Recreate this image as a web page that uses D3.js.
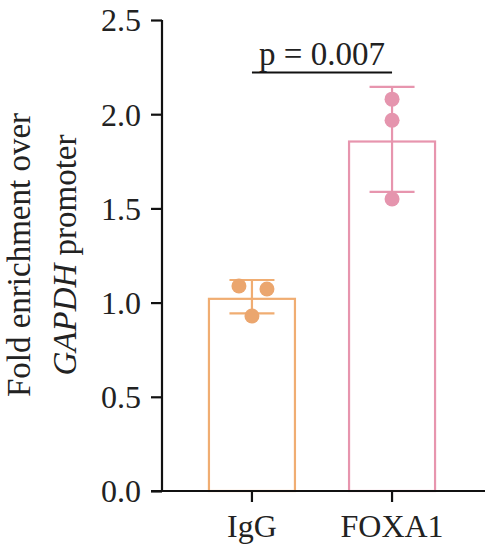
<!DOCTYPE html>
<html><head><meta charset="utf-8">
<script src="https://cdn.jsdelivr.net/npm/d3@7"></script>
<style>body{margin:0;background:#fff}svg{display:block}</style>
</head><body>
<svg id="c" width="485" height="552"></svg>
<script>
const categories = ["IgG", "FOXA1"];
const means = [1.02, 1.855];
const errUpper = [1.12, 2.145];
const errLower = [0.943, 1.588];
const pointsIgG = [1.088, 1.072, 0.929];
const pointsFOXA1 = [2.08, 1.968, 1.55];
const pointOffsets = [[-13, 15, 0], [0, 0, 0]];
const colors = ["#F0AD72", "#E795AE"];
const dotColors = ["#EBA66E", "#E595AE"];
const yTicks = [0, 0.5, 1.0, 1.5, 2.0, 2.5];
const pLabel = "p = 0.007";

const svg = d3.select("#c");
const FONT = "'Liberation Serif', 'Times New Roman', serif";
const y = d3.scaleLinear().domain([0, 2.5]).range([491, 20]);
const x = d3.scaleBand().domain(categories).range([184, 460]).paddingInner(0.37).paddingOuter(0.17);

// bars
categories.forEach((c, i) => {
  const bw = 86;
  const cx = x(c) + x.bandwidth() / 2;
  svg.append("rect").attr("x", cx - bw / 2).attr("y", y(means[i]))
    .attr("width", bw).attr("height", y(0) - y(means[i]))
    .attr("fill", "none").attr("stroke", colors[i]).attr("stroke-width", 2.2);
  svg.append("line").attr("x1", cx).attr("x2", cx).attr("y1", y(errUpper[i])).attr("y2", y(errLower[i]))
    .attr("stroke", colors[i]).attr("stroke-width", 2.2);
  [errUpper[i], errLower[i]].forEach(v => {
    svg.append("line").attr("x1", cx - 22.5).attr("x2", cx + 22.5).attr("y1", y(v)).attr("y2", y(v))
      .attr("stroke", colors[i]).attr("stroke-width", 2.2);
  });
  const pts = i === 0 ? pointsIgG : pointsFOXA1;
  pts.forEach((v, j) => {
    svg.append("circle").attr("cx", cx + pointOffsets[i][j]).attr("cy", y(v)).attr("r", 7.5)
      .attr("fill", dotColors[i]);
  });
});

// y axis
const yAxis = svg.append("g").attr("transform", "translate(162,0)")
  .call(d3.axisLeft(y).tickValues(yTicks).tickFormat(d3.format(".1f")).tickSize(11).tickPadding(10));
yAxis.select(".domain").attr("stroke", "#111").attr("stroke-width", 2.2).attr("d", "M0,20V491");
yAxis.selectAll(".tick line").attr("stroke", "#111").attr("stroke-width", 2.2);
yAxis.selectAll(".tick text").attr("font-family", FONT).attr("font-size", 32).attr("fill", "#222").attr("dy", "0.34em");

// x axis
const xAxis = svg.append("g").attr("transform", "translate(0,491)")
  .call(d3.axisBottom(x).tickSize(11).tickPadding(12));
xAxis.select(".domain").attr("stroke", "#111").attr("stroke-width", 2.2).attr("d", "M151,0H485");
xAxis.selectAll(".tick line").attr("stroke", "#111").attr("stroke-width", 2.2);
xAxis.selectAll(".tick text").attr("font-family", FONT).attr("font-size", 32).attr("fill", "#222");

// p-value
const x1 = x("IgG") + x.bandwidth() / 2, x2 = x("FOXA1") + x.bandwidth() / 2;
svg.append("line").attr("x1", x1).attr("x2", x2).attr("y1", 72.5).attr("y2", 72.5).attr("stroke", "#111").attr("stroke-width", 2.2);
svg.append("text").attr("x", (x1 + x2) / 2).attr("y", 65).attr("text-anchor", "middle")
  .attr("font-family", FONT).attr("font-size", 33).attr("fill", "#222").text(pLabel);

// y label
const yl = svg.append("text").attr("transform", "translate(30,255) rotate(-90)")
  .attr("text-anchor", "middle").attr("font-family", FONT).attr("font-size", 33).attr("fill", "#222");
yl.append("tspan").attr("x", 0).attr("y", 0).text("Fold enrichment over");
const t2 = yl.append("tspan").attr("x", 0).attr("y", 46);
t2.append("tspan").attr("font-style", "italic").text("GAPDH");
t2.append("tspan").text(" promoter");
</script>
</body></html>
